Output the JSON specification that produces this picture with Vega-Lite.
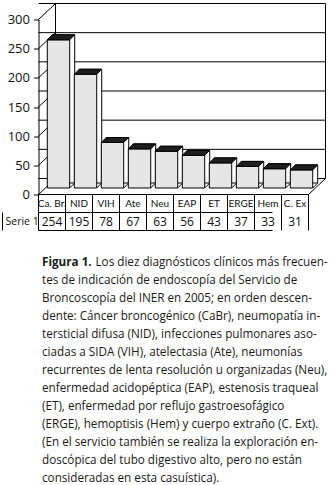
{
  "$schema": "https://vega.github.io/schema/vega-lite/v6.json",
  "padding": {"left": 1.5, "top": 1.5, "right": 0, "bottom": 0},
  "background": "white",
  "config": {
    "view": {"stroke": null},
    "font": "Open Sans",
    "axisY": {"values": [0, 50, 100, 150, 200, 250, 300], "grid": false, "domain": true, "domainColor": "#000",
      "ticks": true, "tickSize": 5, "tickColor": "#000", "labelPadding": 4, "labelFontSize": 13,
      "labelColor": "#111", "labelFont": "Open Sans", "labelFontWeight": "normal"}
  },
  "datasets": {
    "diag": [
      {"cat": "Ca. Br.", "n": 254}, {"cat": "NID", "n": 195}, {"cat": "VIH", "n": 78},
      {"cat": "Ate", "n": 67}, {"cat": "Neu", "n": 63}, {"cat": "EAP", "n": 56},
      {"cat": "ET", "n": 43}, {"cat": "ERGE", "n": 37}, {"cat": "Hem", "n": 33}, {"cat": "C. Ex", "n": 31}
    ],
    "levels": [{"v": 0}, {"v": 50}, {"v": 100}, {"v": 150}, {"v": 200}, {"v": 250}, {"v": 300}],
    "one": [{"serie": "Serie 1"}],
    "caption": [
      {"line": 2, "text": "tes de indicación de endoscopía del Servicio de"},
      {"line": 3, "text": "Broncoscopía del INER en 2005; en orden descen-"},
      {"line": 4, "text": "dente: Cáncer broncogénico (CaBr), neumopatía in-"},
      {"line": 5, "text": "tersticial difusa (NID), infecciones pulmonares aso-"},
      {"line": 6, "text": "ciadas a SIDA (VIH), atelectasia (Ate), neumonías"},
      {"line": 7, "text": "recurrentes de lenta resolución u organizadas (Neu),"},
      {"line": 8, "text": "enfermedad acidopéptica (EAP), estenosis traqueal"},
      {"line": 9, "text": "(ET), enfermedad por reflujo gastroesofágico"},
      {"line": 10, "text": "(ERGE), hemoptisis (Hem) y cuerpo extraño (C. Ext)."},
      {"line": 11, "text": "(En el servicio también se realiza la exploración en-"},
      {"line": 12, "text": "doscópica del tubo digestivo alto, pero no están"},
      {"line": 13, "text": "consideradas en esta casuística)."}
    ],
    "capHead": [{"line": 1, "text": "Figura 1."}],
    "capFirst": [{"line": 1, "text": "Los diez diagnósticos clínicos más frecuen-"}]
  },
  "spacing": 25,
  "bounds": "full",
  "vconcat": [
    {
      "width": 270,
      "height": 175,
      "data": {"name": "diag"},
      "layer": [
        {
          "data": {"name": "levels"},
          "mark": {"type": "rule", "stroke": "#000", "strokeWidth": 1, "xOffset": 17, "x2Offset": 17, "yOffset": -16},
          "encoding": {
            "y": {"field": "v", "type": "quantitative", "title": null,
              "scale": {"domain": [0, 300], "nice": false, "zero": true}}
          }
        },
        {
          "data": {"name": "levels"},
          "mark": {"type": "point", "shape": "M0,0L1,-0.941", "size": 1156, "filled": false, "stroke": "#000", "strokeWidth": 1, "opacity": 1},
          "encoding": {
            "x": {"datum": "Ca. Br.", "bandPosition": 0, "type": "nominal", "axis": null,
              "scale": {"type": "band", "domain": ["Ca. Br.", "NID", "VIH", "Ate", "Neu", "EAP", "ET", "ERGE", "Hem", "C. Ex"], "paddingInner": 0, "paddingOuter": 0}},
            "y": {"field": "v", "type": "quantitative", "title": null}
          }
        },
        {
          "data": {"name": "one"},
          "mark": {"type": "rule", "stroke": "#000", "strokeWidth": 1, "xOffset": 17, "yOffset": -16, "y2Offset": -16},
          "encoding": {
            "x": {"datum": "Ca. Br.", "bandPosition": 0, "type": "nominal", "axis": null},
            "y": {"datum": 0, "type": "quantitative", "title": null},
            "y2": {"datum": 300}
          }
        },
        {
          "data": {"name": "one"},
          "mark": {"type": "rule", "stroke": "#000", "strokeWidth": 1, "xOffset": 17, "yOffset": -16, "y2Offset": -16},
          "encoding": {
            "x": {"datum": "C. Ex", "bandPosition": 1, "type": "nominal", "axis": null},
            "y": {"datum": 0, "type": "quantitative", "title": null},
            "y2": {"datum": 300}
          }
        },
        {
          "data": {"name": "one"},
          "mark": {"type": "point", "shape": "M0,0L1,-0.941", "size": 1156, "filled": false, "stroke": "#000", "strokeWidth": 1, "opacity": 1},
          "encoding": {
            "x": {"datum": "C. Ex", "bandPosition": 1, "type": "nominal", "axis": null},
            "y": {"datum": 0, "type": "quantitative", "title": null}
          }
        },
        {
          "data": {"name": "one"},
          "mark": {"type": "rule", "stroke": "#000", "strokeWidth": 1},
          "encoding": {"y": {"datum": 0, "type": "quantitative", "title": null}}
        },
        {
          "data": {"name": "one"},
          "mark": {"type": "rule", "stroke": "#000", "strokeWidth": 1, "yOffset": 18, "xOffset": -36},
          "encoding": {"y": {"datum": 0, "type": "quantitative", "title": null}}
        },
        {
          "data": {"name": "one"},
          "mark": {"type": "rule", "stroke": "#000", "strokeWidth": 1, "yOffset": 36, "xOffset": -36},
          "encoding": {"y": {"datum": 0, "type": "quantitative", "title": null}}
        },
        {
          "mark": {"type": "rule", "stroke": "#000", "strokeWidth": 1, "y2Offset": 36},
          "encoding": {
            "x": {"field": "cat", "type": "nominal", "bandPosition": 0, "axis": null},
            "y": {"datum": 0, "type": "quantitative", "title": null},
            "y2": {"datum": 0}
          }
        },
        {
          "data": {"name": "one"},
          "mark": {"type": "rule", "stroke": "#000", "strokeWidth": 1, "y2Offset": 36},
          "encoding": {
            "x": {"datum": "C. Ex", "bandPosition": 1, "type": "nominal", "axis": null},
            "y": {"datum": 0, "type": "quantitative", "title": null},
            "y2": {"datum": 0}
          }
        },
        {
          "data": {"name": "one"},
          "mark": {"type": "rule", "stroke": "#000", "strokeWidth": 1, "xOffset": -36, "yOffset": 18, "y2Offset": 36},
          "encoding": {
            "x": {"datum": "Ca. Br.", "bandPosition": 0, "type": "nominal", "axis": null},
            "y": {"datum": 0, "type": "quantitative", "title": null},
            "y2": {"datum": 0}
          }
        },
        {
          "mark": {"type": "text", "fontSize": 10, "baseline": "middle", "align": "center", "dy": 9.5, "color": "#111", "font": "Lato"},
          "encoding": {
            "x": {"field": "cat", "type": "nominal", "axis": null},
            "y": {"datum": 0, "type": "quantitative", "title": null},
            "text": {"field": "cat"}
          }
        },
        {
          "mark": {"type": "text", "fontSize": 12, "baseline": "middle", "align": "center", "dy": 27.5, "color": "#111", "font": "Open Sans"},
          "encoding": {
            "x": {"field": "cat", "type": "nominal", "axis": null},
            "y": {"datum": 0, "type": "quantitative", "title": null},
            "text": {"field": "n", "type": "quantitative"}
          }
        },
        {
          "data": {"name": "one"},
          "mark": {"type": "text", "fontSize": 10.5, "baseline": "middle", "align": "left", "dx": -33, "dy": 27.5, "color": "#111", "font": "Open Sans"},
          "encoding": {
            "x": {"datum": "Ca. Br.", "bandPosition": 0, "type": "nominal", "axis": null},
            "y": {"datum": 0, "type": "quantitative", "title": null},
            "text": {"field": "serie"}
          }
        },
        {
          "mark": {"type": "bar", "width": {"band": 0.83}, "fill": "#ffffff", "stroke": "#000", "strokeWidth": 1, "xOffset": 11.5, "yOffset": -11.5, "y2Offset": -11.5},
          "encoding": {
            "x": {"field": "cat", "type": "nominal", "axis": null},
            "y": {"field": "n", "type": "quantitative", "title": null}
          }
        },
        {
          "mark": {"type": "point", "shape": "M0,0L1,-1", "size": 100, "filled": false, "stroke": "#000", "strokeWidth": 1, "opacity": 1, "xOffset": 17.7, "yOffset": -6.5},
          "encoding": {
            "x": {"field": "cat", "type": "nominal", "axis": null},
            "y": {"datum": 0, "type": "quantitative", "title": null}
          }
        },
        {
          "mark": {"type": "bar", "width": {"band": 0.83}, "fill": "#e6e6e6", "stroke": "#000", "strokeWidth": 1, "xOffset": 6.5, "yOffset": -6.5, "y2Offset": -6.5},
          "encoding": {
            "x": {"field": "cat", "type": "nominal", "axis": null},
            "y": {"field": "n", "type": "quantitative", "title": null}
          }
        },
        {
          "mark": {"type": "point", "shape": "M-0.8,0L0.8,0L1.157,-0.357L-0.443,-0.357Z", "size": 784, "filled": true, "fill": "#1e1e1e", "stroke": "#000", "strokeWidth": 1, "opacity": 1, "xOffset": 6.5, "yOffset": -6.5},
          "encoding": {
            "x": {"field": "cat", "type": "nominal", "axis": null},
            "y": {"field": "n", "type": "quantitative", "title": null}
          }
        }
      ]
    },
    {
      "width": 322,
      "height": 216,
      "layer": [
        {
          "data": {"name": "caption"},
          "mark": {"type": "text", "align": "left", "baseline": "middle", "fontSize": 11.7, "font": "Open Sans", "color": "#1a1a1a", "dx": 3.5},
          "encoding": {
            "x": {"datum": 0, "type": "quantitative", "scale": {"domain": [0, 1]}, "axis": null},
            "y": {"field": "line", "type": "ordinal", "title": null,
              "scale": {"type": "point", "padding": 0, "domain": [1, 2, 3, 4, 5, 6, 7, 8, 9, 10, 11, 12, 13]},
              "axis": {"labels": false, "ticks": false, "domain": true, "domainColor": "transparent", "title": null}},
            "text": {"field": "text"}
          }
        },
        {
          "data": {"name": "capHead"},
          "mark": {"type": "text", "align": "left", "baseline": "middle", "fontSize": 11.7, "font": "Open Sans", "fontWeight": "bold", "color": "#1a1a1a", "dx": 3.5},
          "encoding": {
            "x": {"datum": 0, "type": "quantitative", "axis": null},
            "y": {"field": "line", "type": "ordinal", "title": null},
            "text": {"field": "text"}
          }
        },
        {
          "data": {"name": "capFirst"},
          "mark": {"type": "text", "align": "left", "baseline": "middle", "fontSize": 11.7, "font": "Open Sans", "color": "#1a1a1a", "dx": 57},
          "encoding": {
            "x": {"datum": 0, "type": "quantitative", "axis": null},
            "y": {"field": "line", "type": "ordinal", "title": null},
            "text": {"field": "text"}
          }
        }
      ]
    }
  ]
}
